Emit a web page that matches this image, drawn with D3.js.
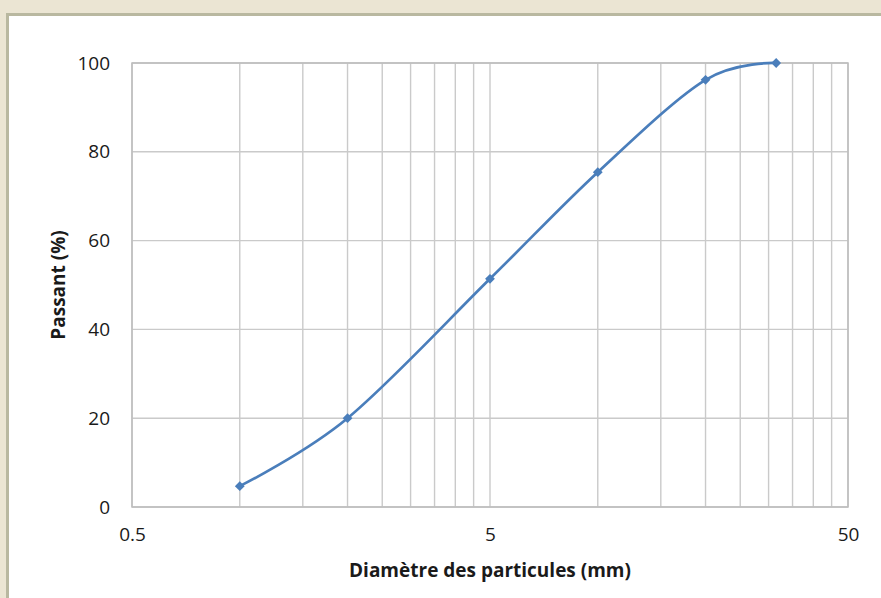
<!DOCTYPE html>
<html>
<head>
<meta charset="utf-8">
<script src="https://cdn.jsdelivr.net/npm/d3@7"></script>
<style>
  html, body { margin: 0; padding: 0; background: #ebe5d3; }
  svg { display: block; }
</style>
</head>
<body>
<svg id="chart" width="881" height="598"></svg>
<script>
// Particle size distribution (granulometric curve)
const diameters = [1, 2, 5, 10, 20, 31.5];          // mm
const passing   = [4.7, 20, 51.4, 75.4, 96.2, 100]; // % passing
const xTicks = [0.5, 5, 50];
const yTicks = [0, 20, 40, 60, 80, 100];
const xTitle = "Diamètre des particules (mm)";
const yTitle = "Passant (%)";

const W = 881, H = 598;
const margin = { left: 132, right: 33, top: 63, bottom: 91 };

const svg = d3.select("#chart");

// white chart panel with olive frame
svg.append("rect").attr("x", 0).attr("y", 0).attr("width", W).attr("height", H).attr("fill", "#ebe5d3");
svg.append("rect").attr("x", 6).attr("y", 13).attr("width", W).attr("height", H)
  .attr("fill", "#b9b8a0");
svg.append("rect").attr("x", 9).attr("y", 16).attr("width", W).attr("height", H)
  .attr("fill", "#ffffff");

const x = d3.scaleLog().domain([0.5, 50]).range([margin.left, W - margin.right]);
const y = d3.scaleLinear().domain([0, 100]).range([H - margin.bottom, margin.top]);

const g = svg.append("g");

// minor vertical gridlines: multiples of the decade start
const vLines = [];
[0.5, 5].forEach(base => { for (let k = 1; k <= 10; k++) vLines.push(base * k); });
g.selectAll("line.v").data(Array.from(new Set(vLines.map(v => +v.toFixed(4)))))
  .join("line")
  .attr("x1", d => x(d)).attr("x2", d => x(d))
  .attr("y1", y(0)).attr("y2", y(100))
  .attr("stroke", "#cacaca").attr("stroke-width", 1.4);

g.selectAll("line.h").data(yTicks)
  .join("line")
  .attr("x1", x(0.5)).attr("x2", x(50))
  .attr("y1", d => y(d)).attr("y2", d => y(d))
  .attr("stroke", "#cacaca").attr("stroke-width", 1.4);

// plot area border
g.append("rect")
  .attr("x", x(0.5)).attr("y", y(100))
  .attr("width", x(50) - x(0.5)).attr("height", y(0) - y(100))
  .attr("fill", "none").attr("stroke", "#bdbdbd").attr("stroke-width", 1.5);

// axes labels
const font = "'Open Sans', 'Noto Sans', sans-serif";
const yAxis = d3.axisLeft(y).tickValues(yTicks).tickSize(0).tickPadding(22);
const ya = svg.append("g").attr("transform", `translate(${x(0.5)},0)`).call(yAxis);
ya.select(".domain").remove();
ya.selectAll("text").attr("font-family", font).attr("font-size", 19).attr("fill", "#1a1a1a");

const xAxis = d3.axisBottom(x).tickValues(xTicks).tickFormat(d3.format("")).tickSize(0).tickPadding(21);
const xa = svg.append("g").attr("transform", `translate(0,${y(0)})`).call(xAxis);
xa.select(".domain").remove();
xa.selectAll("text").attr("font-family", font).attr("font-size", 19).attr("fill", "#1a1a1a");

svg.append("text")
  .attr("x", x(5)).attr("y", 577)
  .attr("text-anchor", "middle")
  .attr("font-family", font).attr("font-size", 19).attr("font-weight", "bold")
  .attr("fill", "#1a1a1a")
  .text(xTitle);

svg.append("text")
  .attr("transform", `translate(65,${(y(0) + y(100)) / 2}) rotate(-90)`)
  .attr("text-anchor", "middle")
  .attr("font-family", font).attr("font-size", 19).attr("font-weight", "bold")
  .attr("fill", "#1a1a1a")
  .text(yTitle);

// smoothed curve and diamond markers
const pts = diameters.map((d, i) => [d, passing[i]]);
const line = d3.line().x(d => x(d[0])).y(d => y(d[1])).curve(d3.curveCardinal.tension(0));
svg.append("path").datum(pts)
  .attr("d", line)
  .attr("fill", "none").attr("stroke", "#4a7ebb").attr("stroke-width", 2.7);

svg.selectAll("path.m").data(pts).join("path")
  .attr("d", d3.symbol(d3.symbolSquare, 48))
  .attr("transform", d => `translate(${x(d[0])},${y(d[1])}) rotate(45)`)
  .attr("fill", "#4a7ebb");
</script>
</body>
</html>
